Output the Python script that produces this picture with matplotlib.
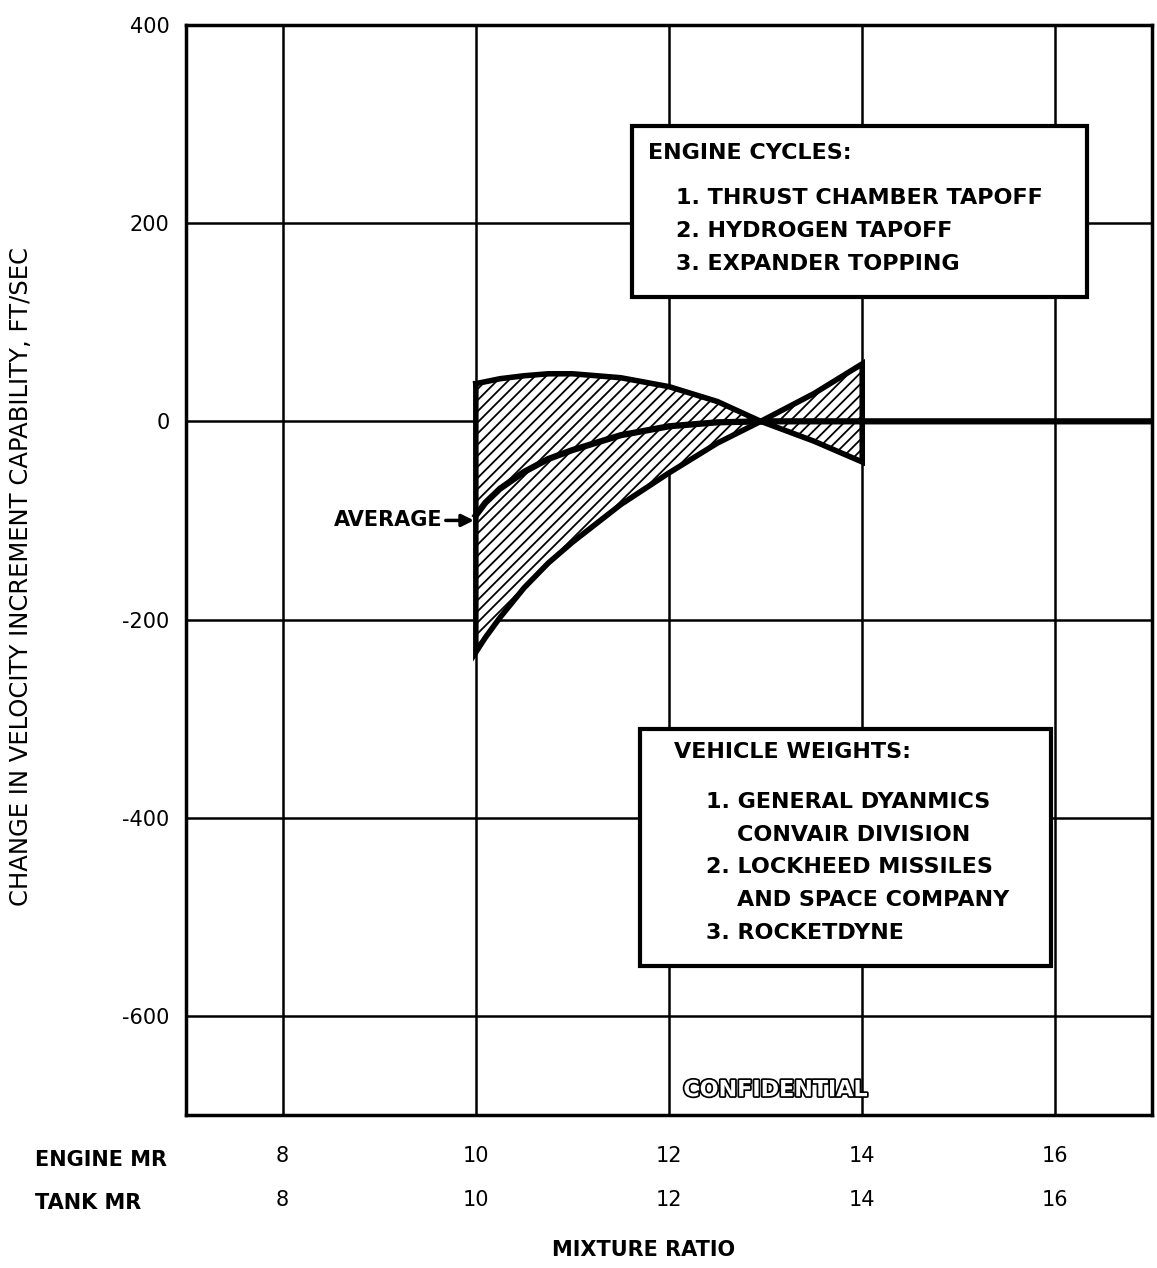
import matplotlib
matplotlib.use("Agg")
import matplotlib.pyplot as plt
import matplotlib.patheffects as pe
from matplotlib.patches import Rectangle

plt.rcParams['font.family'] = ['DejaVu Sans']
plt.rcParams['hatch.linewidth'] = 1.3

# data
mr = [10.0, 10.1, 10.25, 10.5, 10.75, 11.0, 11.5, 12.0, 12.5, 12.95, 13.5, 14.0]
upper = [38, 40, 43, 46, 48, 48, 44, 35, 20, 0, -20, -41]
lower = [-233, -218, -198, -168, -143, -122, -84, -52, -22, 0, 28, 58]
avg_mr = [10.0, 10.1, 10.25, 10.5, 10.75, 11.0, 11.5, 12.0, 12.5, 13.0, 14.0, 17.0]
avg = [-95, -82, -68, -51, -38, -29, -14, -5, -1, 0, 0, 0]

engine_mr = [8, 10, 12, 14, 16]
tank_mr = [8, 10, 12, 14, 16]
yticks = [-600, -400, -200, 0, 200, 400]

cycles = ["1. THRUST CHAMBER TAPOFF", "2. HYDROGEN TAPOFF", "3. EXPANDER TOPPING"]
weights = ["1. GENERAL DYANMICS", "    CONVAIR DIVISION", "2. LOCKHEED MISSILES",
           "    AND SPACE COMPANY", "3. ROCKETDYNE"]

fig = plt.figure(figsize=(11.57, 12.68), dpi=100)
ax = fig.add_axes([0.1608, 0.1207, 0.8349, 0.8596])
ax.set_xlim(7, 17)
ax.set_ylim(-700, 400)

# grid
for x in engine_mr:
    ax.axvline(x, color='black', lw=1.8, zorder=1)
for y in yticks:
    ax.axhline(y, color='black', lw=1.8, zorder=1)
for s in ax.spines.values():
    s.set_linewidth(2.5)

# hatched band between the curves
ax.fill_between(mr, lower, upper, facecolor='white', edgecolor='black',
                hatch='///', lw=0, zorder=2)
bx = mr + mr[::-1] + [mr[0]]
by = upper + lower[::-1] + [upper[0]]
ax.plot(bx, by, color='black', lw=4, solid_joinstyle='miter', zorder=3)
ax.plot(avg_mr, avg, color='black', lw=4.5, zorder=3)

ax.annotate("AVERAGE", xy=(9.98, avg[0] - 5), xytext=(9.66, avg[0] - 5),
            fontsize=15, fontweight='bold', ha='right', va='center',
            arrowprops=dict(arrowstyle='-|>', color='black', lw=2.5,
                            mutation_scale=18, shrinkA=0, shrinkB=0))

# ticks
ax.set_yticks(yticks)
ax.set_yticklabels([str(v) for v in yticks], fontsize=15)
ax.set_xticks(engine_mr)
ax.set_xticklabels([f"{e}\n{t}" for e, t in zip(engine_mr, tank_mr)],
                   fontsize=15, linespacing=2.5)
ax.tick_params(length=0, pad=12)
ax.tick_params(axis='x', pad=22)

fig.text(0.03, 0.085, "ENGINE MR", fontsize=15, fontweight='bold', va='center')
fig.text(0.03, 0.051, "TANK MR", fontsize=15, fontweight='bold', va='center')
fig.text(0.556, 0.014, "MIXTURE RATIO", fontsize=15, fontweight='bold', ha='center', va='center')
fig.text(0.018, 0.545, "CHANGE IN VELOCITY INCREMENT CAPABILITY, FT/SEC",
         fontsize=17.5, rotation=90, ha='center', va='center')

# engine cycles box
ax.add_patch(Rectangle((11.62, 125), 4.71, 173, facecolor='white',
                       edgecolor='black', lw=3, zorder=4))
ax.text(11.78, 271, "ENGINE CYCLES:", fontsize=16, fontweight='bold', va='center', zorder=5)
for i, t in enumerate(cycles):
    ax.text(12.07, 225 - i * 33, t, fontsize=16, fontweight='bold', va='center', zorder=5)

# vehicle weights box
ax.add_patch(Rectangle((11.70, -550), 4.25, 240, facecolor='white',
                       edgecolor='black', lw=3, zorder=4))
ax.text(12.05, -334, "VEHICLE WEIGHTS:", fontsize=16, fontweight='bold', va='center', zorder=5)
for i, t in enumerate(weights):
    ax.text(12.38, -384 - i * 33, t, fontsize=16, fontweight='bold', va='center', zorder=5)

ax.text(13.1, -675, "CONFIDENTIAL", fontsize=16, fontweight='bold', color='white',
        ha='center', va='center', zorder=5,
        path_effects=[pe.withStroke(linewidth=2.5, foreground='black')])

fig.savefig("out.png", dpi=100)
